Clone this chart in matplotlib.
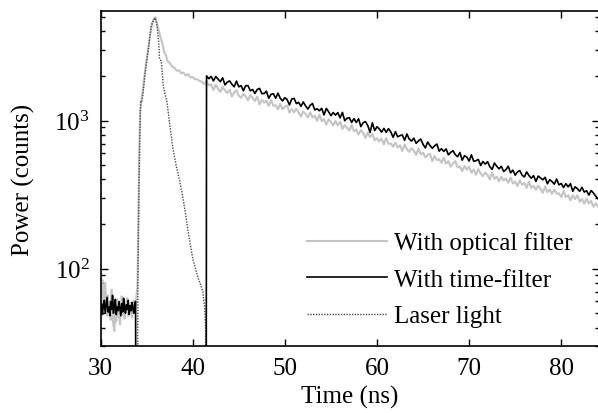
import numpy as np
import matplotlib
matplotlib.use("Agg")
import matplotlib.pyplot as plt
from matplotlib.ticker import LogLocator, NullFormatter, NullLocator

plt.rcParams["font.family"] = ["Liberation Serif", "DejaVu Serif"]
plt.rcParams["font.size"] = 18

# ---- data ----
# background before the laser pulse (30.0 .. 33.9 ns, 0.1 ns bins)
pre_start = 30.0
pre_step = 0.1
optical_pre = [62, 75, 84, 58, 70, 80, 55, 48, 66, 52, 60, 45, 72, 50, 41, 38, 55, 44, 62, 47,
               58, 42, 54, 65, 49, 57, 46, 60, 52, 63, 48, 56, 50, 59, 47, 55, 61, 50, 57, 66]
timefilt_pre = [52, 58, 49, 56, 61, 50, 57, 64, 51, 55, 48, 60, 53, 66, 50, 57, 62, 49, 55, 52,
                60, 54, 48, 58, 51, 63, 55, 50, 57, 53, 61, 49, 56, 52, 59, 54, 50, 58, 60]

# optical filter: rise, peak and shoulder
optical_peak_t = [34.0, 34.1, 34.2, 34.3, 34.45, 34.6, 34.8, 35.0, 35.2, 35.4, 35.6, 35.8, 35.95,
                  36.1, 36.3, 36.5, 36.7, 36.9, 37.1, 37.3, 37.5, 37.75, 38.0, 38.25, 38.5,
                  38.75, 39.0, 39.25, 39.5, 39.75, 40.0, 40.25, 40.5, 40.75]
optical_peak = [75, 210, 620, 1150, 1400, 1650, 2100, 2600, 3150, 3900, 4500, 4900, 5000,
                4600, 4100, 3650, 3350, 2900, 2750, 2500, 2460, 2320, 2280, 2170, 2190,
                2090, 2110, 2010, 2060, 1960, 1970, 1900, 1905, 1850]

# optical filter: decay tail (41.0 .. 84.0 ns, 0.25 ns bins)
optical_tail_start = 41.0
tail_step = 0.25
optical_tail = [1830, 1763, 1849, 1725, 1760, 1613, 1748, 1637, 1562, 1692, 1596, 1535, 1613, 1456,
                1548, 1608, 1471, 1426, 1514, 1455, 1368, 1483, 1425, 1355, 1452, 1286, 1380, 1325,
                1362, 1257, 1374, 1257, 1270, 1194, 1294, 1194, 1242, 1266, 1134, 1194, 1135, 1203,
                1133, 1063, 1152, 1106, 1050, 1136, 1049, 1079, 995, 1096, 991, 1021, 940, 1019,
                979, 928, 995, 928, 982, 878, 932, 894, 856, 935, 846, 871, 806, 863, 824, 765,
                831, 774, 814, 735, 760, 722, 757, 691, 761, 696, 701, 665, 711, 657, 682, 622,
                688, 641, 615, 652, 625, 587, 647, 591, 608, 564, 587, 597, 532, 576, 542, 548,
                519, 561, 512, 532, 489, 514, 533, 482, 490, 456, 494, 465, 488, 445, 467, 430,
                470, 439, 421, 446, 429, 400, 446, 404, 418, 390, 417, 393, 407, 380, 412, 376,
                387, 361, 395, 368, 379, 351, 388, 351, 363, 341, 364, 346, 325, 359, 329, 343,
                320, 342, 320, 323, 304, 335, 304, 313, 289, 313, 295, 313, 283, 295, 275, 297,
                275, 287, 262, 276, 262]

# time filter: gate closed between 33.85 and 41.45 ns
timefilt_gap_t = [33.85, 41.45]
timefilt_gap = [1, 1]

# time filter: decay tail (41.5 .. 84.0 ns, 0.25 ns bins)
timefilt_tail_start = 41.5
timefilt_tail = [2005, 1919, 1989, 1853, 1986, 1909, 1833, 1945, 1743, 1818, 1854, 1763, 1692, 1849,
                 1691, 1724, 1589, 1722, 1721, 1590, 1622, 1526, 1622, 1651, 1524, 1523, 1581, 1415,
                 1505, 1519, 1416, 1532, 1416, 1358, 1428, 1386, 1276, 1400, 1412, 1303, 1328, 1248,
                 1336, 1258, 1195, 1269, 1304, 1180, 1203, 1165, 1210, 1092, 1208, 1148, 1080, 1134,
                 1089, 1132, 1043, 1136, 998, 1038, 1046, 973, 1032, 971, 1029, 911, 968, 984,
                 926, 832, 967, 856, 908, 880, 835, 886, 833, 882, 838, 771, 842, 777,
                 792, 800, 736, 812, 750, 727, 762, 702, 729, 750, 691, 654, 716, 679,
                 650, 675, 694, 622, 646, 619, 644, 587, 610, 626, 589, 570, 609, 540,
                 579, 567, 533, 587, 531, 536, 546, 498, 529, 508, 528, 488, 468, 517,
                 492, 472, 491, 453, 467, 491, 444, 463, 428, 450, 460, 428, 416, 450,
                 425, 408, 425, 388, 422, 410, 398, 414, 374, 399, 387, 372, 403, 368,
                 376, 353, 375, 357, 375, 333, 357, 347, 333, 354, 329, 336, 314, 337,
                 324, 308, 296]

# laser light (dotted)
laser_t = [33.95, 34.05, 34.15, 34.25, 34.35, 34.45, 34.6, 34.8, 35.0, 35.2, 35.5, 35.7, 35.9,
           36.1, 36.3, 36.4, 36.6, 36.8, 37.0, 37.2, 37.5, 37.85, 38.2, 38.6, 38.95, 39.2,
           39.5, 39.75, 40.0, 40.3, 40.6, 40.85, 41.1, 41.3, 41.4, 41.45]
laser = [1, 82, 300, 750, 1350, 1340, 1500, 2000, 2500, 3060, 4400, 4700, 4940,
         4500, 3420, 2625, 2500, 1733, 1500, 1343, 950, 647, 500, 387, 297, 240,
         178, 145, 117, 100, 86, 78, 70, 54, 40, 1]

# ---- assemble series ----
t_opt = np.concatenate([pre_start + pre_step * np.arange(len(optical_pre)),
                        optical_peak_t,
                        optical_tail_start + tail_step * np.arange(len(optical_tail))])
y_opt = np.concatenate([optical_pre, optical_peak, optical_tail])

t_tf = np.concatenate([pre_start + pre_step * np.arange(len(timefilt_pre)),
                       timefilt_gap_t,
                       timefilt_tail_start + tail_step * np.arange(len(timefilt_tail))])
y_tf = np.concatenate([timefilt_pre, timefilt_gap, timefilt_tail])

# ---- plot ----
fig = plt.figure(figsize=(5.98, 4.14), dpi=100)
ax = fig.add_axes([0.1682, 0.1618, 0.8335, 0.8092])

l_opt, = ax.plot(t_opt, y_opt, color="#c4c4c4", lw=1.5, label="With optical filter")
l_las, = ax.plot(laser_t, laser, color="#4a4a4a", lw=1.0, ls=(0, (1, 1)), label="Laser light")
l_tf, = ax.plot(t_tf, y_tf, color="black", lw=1.2, label="With time-filter")

ax.set_yscale("log")
ax.set_xlim(30, 84.1)
ax.set_ylim(30, 5500)
ax.set_xticks([30, 40, 50, 60, 70, 80])
ax.xaxis.set_minor_locator(NullLocator())
ax.yaxis.set_major_locator(LogLocator(base=10, numticks=10))
ax.yaxis.set_minor_locator(LogLocator(base=10, subs=np.arange(2, 10), numticks=10))
ax.yaxis.set_minor_formatter(NullFormatter())

ax.tick_params(which="both", direction="in", top=True, right=True, width=1.0)
ax.tick_params(which="major", length=5)
ax.tick_params(which="minor", length=3)
ax.tick_params(axis="x", pad=8)
ax.tick_params(axis="y", pad=8)
for s in ax.spines.values():
    s.set_linewidth(1.2)

ax.set_xlabel("Time (ns)", labelpad=4)
ax.set_ylabel("Power (counts)")
ax.yaxis.set_label_coords(-0.132, 0.5)

ax.legend(handles=[l_opt, l_tf, l_las], loc="upper left", bbox_to_anchor=(0.415, 0.342),
          frameon=False, borderpad=0, borderaxespad=0, handlelength=3.2,
          handletextpad=0.25, labelspacing=0.56)

fig.savefig("out.png", dpi=100)
